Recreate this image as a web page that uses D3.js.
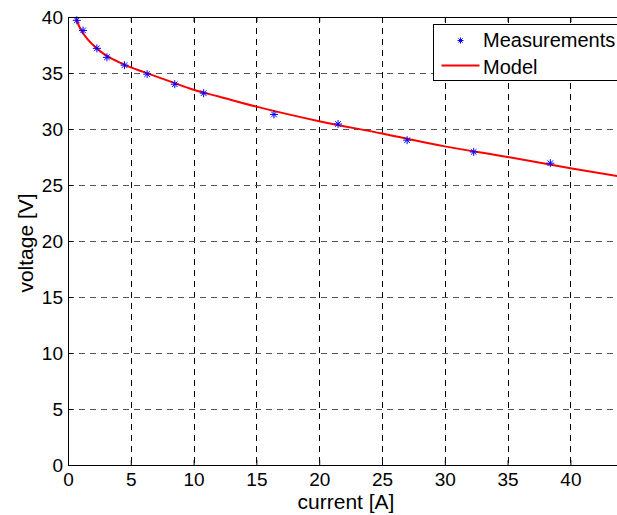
<!DOCTYPE html>
<html>
<head>
<meta charset="utf-8">
<script src="https://cdn.jsdelivr.net/npm/d3@7"></script>
<style>
  body { margin: 0; background: #fff; }
  text { font-family: "Liberation Sans", Arial, sans-serif; }
</style>
</head>
<body>
<div id="chart"></div>
<script>
// Measured points
const measCurrent = [0.7, 1.2, 2.3, 3.1, 4.5, 6.3, 8.5, 10.8, 16.4, 21.5, 27.0, 32.3, 38.4];
const measVoltage = [39.7, 38.8, 37.2, 36.4, 35.7, 34.9, 34.0, 33.2, 31.3, 30.45, 29.0, 27.95, 26.95];

// Model curve
const modelCurrent = [0.65, 0.8, 1, 1.5, 2, 2.5, 3, 4, 5, 6, 8, 10, 12, 15, 20, 25, 30, 35, 40, 44];
const modelVoltage = [39.9, 39.4, 38.9, 38.1, 37.5, 37.0, 36.6, 36.0, 35.5, 35.1, 34.3, 33.5, 32.9, 32.0, 30.7, 29.6, 28.45, 27.5, 26.5, 25.75];

const xTicks = [0, 5, 10, 15, 20, 25, 30, 35, 40];
const yTicks = [0, 5, 10, 15, 20, 25, 30, 35, 40];

const svgWidth = 617;
const svgHeight = 515;
const margin = { top: 17, left: 68, bottom: 50 };
const chartHeight = svgHeight - margin.top - margin.bottom;
const pxPerAmp = 12.56;

const svg = d3.select("#chart")
  .append("svg")
  .attr("width", svgWidth)
  .attr("height", svgHeight);

const chart = svg.append("g")
  .attr("transform", `translate(${margin.left}, ${margin.top})`);

const xScale = d3.scaleLinear()
  .domain([0, 45])
  .range([0, 45 * pxPerAmp]);

const yScale = d3.scaleLinear()
  .domain([0, 40])
  .range([chartHeight, 0]);

const plotRight = xScale(45);

// Grid
chart.append("g")
  .selectAll("line")
  .data(xTicks.slice(1))
  .join("line")
  .attr("x1", d => Math.round(xScale(d)) + 0.5)
  .attr("x2", d => Math.round(xScale(d)) + 0.5)
  .attr("y1", 0)
  .attr("y2", chartHeight)
  .attr("stroke", "#000")
  .attr("stroke-dasharray", "6,5");

chart.append("g")
  .selectAll("line")
  .data(yTicks.slice(1, -1))
  .join("line")
  .attr("x1", 0)
  .attr("x2", plotRight)
  .attr("y1", d => Math.round(yScale(d)) + 0.5)
  .attr("y2", d => Math.round(yScale(d)) + 0.5)
  .attr("stroke", "#555")
  .attr("stroke-dasharray", "6,5");

// Axes (ticks inside, MATLAB style)
const xAxis = d3.axisBottom(xScale).tickValues(xTicks).tickSizeInner(-5).tickSizeOuter(0).tickPadding(8);
const yAxis = d3.axisLeft(yScale).tickValues(yTicks).tickSizeInner(-5).tickSizeOuter(0).tickPadding(5);

const gx = chart.append("g")
  .attr("transform", `translate(0, ${chartHeight})`)
  .call(xAxis);

const gy = chart.append("g")
  .call(yAxis);

chart.append("g")
  .call(d3.axisTop(xScale).tickValues(xTicks).tickSizeInner(-5).tickSizeOuter(0).tickFormat(""));

[gx, gy].forEach(g => {
  g.selectAll("text").attr("font-size", 19).attr("fill", "#000")
    .style("font-family", "'Liberation Sans', Arial, sans-serif");
  g.selectAll("line, path").attr("stroke", "#000");
});
gy.selectAll(".tick text").attr("dy", "0.35em");

// Model line
const line = d3.line()
  .x((d, i) => xScale(modelCurrent[i]))
  .y((d, i) => yScale(modelVoltage[i]))
  .curve(d3.curveMonotoneX);

chart.append("path")
  .datum(modelCurrent)
  .attr("fill", "none")
  .attr("stroke", "#ff0000")
  .attr("stroke-width", 2)
  .attr("d", line);

// Asterisk markers
function asterisk(g, s) {
  const d = s * 0.7;
  g.append("line").attr("x1", -s).attr("x2", s).attr("y1", 0).attr("y2", 0);
  g.append("line").attr("x1", 0).attr("x2", 0).attr("y1", -s).attr("y2", s);
  g.append("line").attr("x1", -d).attr("x2", d).attr("y1", -d).attr("y2", d);
  g.append("line").attr("x1", -d).attr("x2", d).attr("y1", d).attr("y2", -d);
}

chart.append("g")
  .attr("stroke", "#0000ff")
  .attr("stroke-width", 1)
  .selectAll("g")
  .data(measCurrent)
  .join("g")
  .attr("transform", (d, i) => `translate(${xScale(d)}, ${yScale(measVoltage[i])})`)
  .each(function () { asterisk(d3.select(this), 4); });

// Left and top border lines on top
chart.append("line")
  .attr("x1", 0.5).attr("x2", 0.5).attr("y1", 0).attr("y2", chartHeight)
  .attr("stroke", "#000");
chart.append("line")
  .attr("x1", 0).attr("x2", plotRight).attr("y1", 0.5).attr("y2", 0.5)
  .attr("stroke", "#000");

// Legend
const legend = svg.append("g").attr("transform", "translate(433.5, 24.5)");
legend.append("rect")
  .attr("width", 200)
  .attr("height", 56)
  .attr("fill", "#fff")
  .attr("stroke", "#000");
const lm = legend.append("g")
  .attr("stroke", "#0000ff")
  .attr("transform", "translate(27, 16)");
asterisk(lm, 3);
legend.append("line")
  .attr("x1", 8).attr("x2", 46).attr("y1", 41).attr("y2", 41)
  .attr("stroke", "#ff0000").attr("stroke-width", 2);
legend.append("text").attr("x", 49.5).attr("y", 22.5).attr("font-size", 20).text("Measurements");
legend.append("text").attr("x", 49.5).attr("y", 49.5).attr("font-size", 20).text("Model");

// Axis labels
svg.append("text")
  .attr("x", 346)
  .attr("y", 509)
  .attr("text-anchor", "middle")
  .attr("font-size", 21)
  .text("current [A]");

svg.append("text")
  .attr("transform", `translate(33, 243) rotate(-90)`)
  .attr("text-anchor", "middle")
  .attr("font-size", 21)
  .text("voltage [V]");
</script>
</body>
</html>
